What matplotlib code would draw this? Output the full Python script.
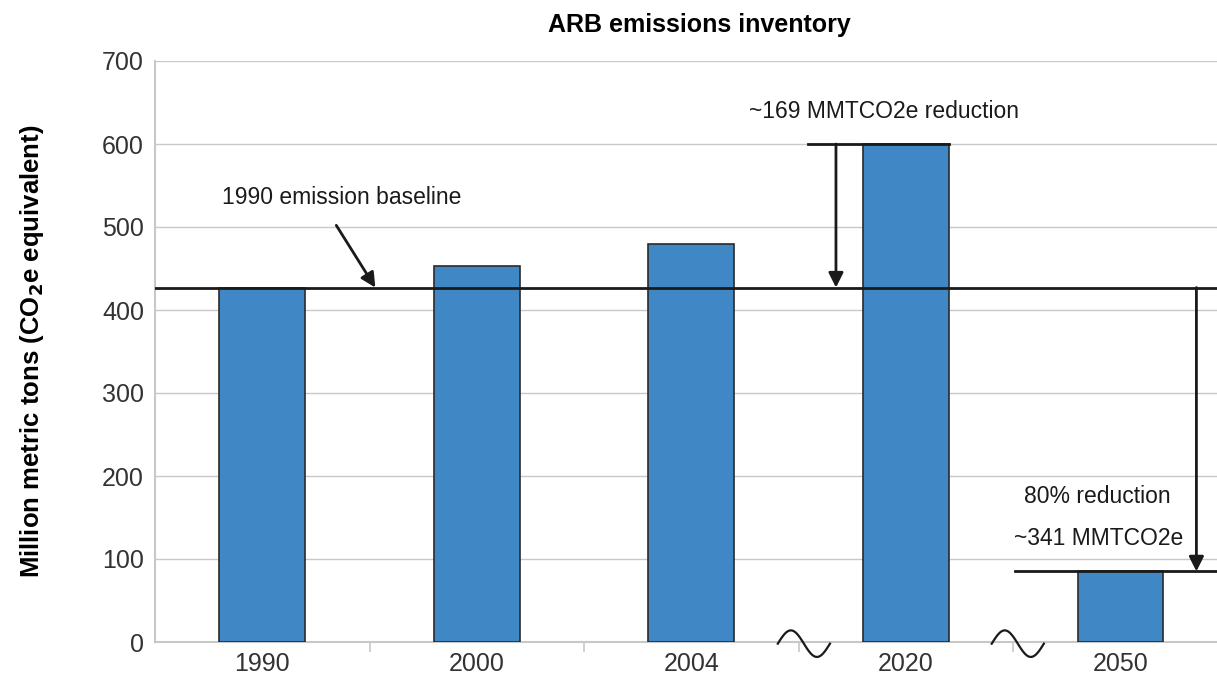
import numpy as np
import matplotlib
matplotlib.use("Agg")
import matplotlib.pyplot as plt

plt.rcParams.update({"font.family": ["Liberation Sans", "DejaVu Sans"]})

years = ["1990", "2000", "2004", "2020", "2050"]
emissions = [427, 453, 480, 600, 85]
baseline_1990 = 427
target_2020 = 600
target_2050 = 85

BLUE = "#3F88C5"
GRID = "#c8c8c8"
INK = "#1a1a1a"

fig = plt.figure(figsize=(12.17, 6.75), dpi=100)
ax = fig.add_axes([155 / 1217, 33 / 675, 1062 / 1217, 581 / 675])

x = np.arange(len(years))
ax.bar(x, emissions, width=0.40, color=BLUE, edgecolor="#2a2a2a", lw=1.2, zorder=3)

ax.set_xlim(-0.5, 4.45)
ax.set_ylim(0, 700)
ax.set_yticks(range(0, 701, 100))
ax.yaxis.grid(True, color=GRID, lw=1.0, zorder=0)
ax.set_axisbelow(True)

ax.set_xticks(x)
ax.set_xticklabels(years)
ax.set_xticks(np.arange(0.5, 4.5, 1), minor=True)
ax.tick_params(axis="x", which="major", length=0, pad=7, labelsize=18, colors="#333333")
ax.tick_params(axis="x", which="minor", length=7, width=1.2, color=GRID)
ax.tick_params(axis="y", length=0, pad=8, labelsize=18, colors="#333333")
for s in ("top", "right"):
    ax.spines[s].set_visible(False)
for s in ("left", "bottom"):
    ax.spines[s].set_color(GRID)
    ax.spines[s].set_linewidth(1.5)

fig.text(699 / 1217, 1 - 25 / 675, "ARB emissions inventory", fontsize=18,
         fontweight="bold", ha="center", va="center")
ax.set_ylabel("Million metric tons (CO$_\\mathbf{2}$e equivalent)", fontsize=18.5,
              fontweight="bold", labelpad=40)

# reference lines
ax.axhline(baseline_1990, color=INK, lw=2, zorder=4)
ax.plot([2.543, 3.2], [target_2020] * 2, color=INK, lw=2, zorder=4)
ax.plot([3.509, 4.45], [target_2050] * 2, color=INK, lw=2, zorder=4, clip_on=False)

arw = dict(arrowstyle="-|>", lw=2, color=INK, mutation_scale=22, shrinkA=0, shrinkB=0)
ax.annotate("", xy=(0.527, baseline_1990), xytext=(0.345, 502), arrowprops=arw, zorder=5)
ax.annotate("", xy=(2.674, baseline_1990), xytext=(2.674, target_2020), arrowprops=arw, zorder=5)
ax.annotate("", xy=(4.354, target_2050), xytext=(4.354, baseline_1990), arrowprops=arw, zorder=5)

ax.text(-0.19, 535, "1990 emission baseline", fontsize=16.5, color=INK, va="center", ha="left")
ax.text(2.27, 639, "~169 MMTCO2e reduction", fontsize=16.5, color=INK, va="center", ha="left")
ax.text(3.89, 175, "80% reduction", fontsize=16.5, color=INK, va="center", ha="center")
ax.text(3.90, 125, "~341 MMTCO2e", fontsize=16.5, color=INK, va="center", ha="center")

# axis-break squiggles
t = np.linspace(0, 1, 60)
for x0 in (2.403, 3.40):
    ax.plot(x0 + 0.243 * t, 16 * np.sin(2 * np.pi * t) - 2, color=INK, lw=1.6,
            clip_on=False, zorder=6)

fig.savefig("out.png", dpi=100, facecolor="white")
